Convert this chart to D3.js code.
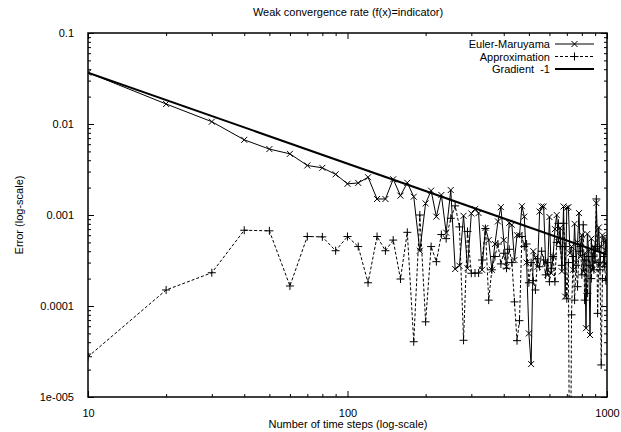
<!DOCTYPE html>
<html>
<head>
<meta charset="utf-8">
<style>
  body { margin: 0; background: #fff; }
  svg { display: block; font-family: "Liberation Sans", Arial, sans-serif; }
  .axis .domain { display: none; }
  .axis .tick line { stroke: #000; stroke-width: 1px; }
  .axis .tick text { font-size: 11px; fill: #000; }
</style>
</head>
<body>
<svg width="621" height="432"></svg>
<script src="https://d3js.org/d3.v7.min.js"></script>
<script>
// number of time steps: 10, 20, ..., 1000
let steps = d3.range(10, 1001, 10);

// Euler-Maruyama weak error
let eulerErr = [
  0.0367, 0.0166, 0.0106, 0.0067, 0.0053, 0.0047, 0.0035, 0.0033, 0.0028, 0.0022,
  0.00225, 0.0026, 0.0015, 0.0015, 0.00247, 0.00163, 0.00226, 0.00159, 0.000405, 0.00134,
  0.00185, 0.00096, 0.00166, 0.00064, 0.00188, 0.000255, 0.000277, 0.00098, 0.00026, 0.00104,
  0.00116, 0.00105, 0.00025, 0.00072, 0.00053, 0.00025, 0.00048, 0.00085, 0.00122, 0.00053,
  0.00027, 0.00082, 0.00078, 0.00032, 0.0006, 0.0006, 0.00125, 0.00096, 0.0003, 0.00005,
  0.000023, 0.0004, 0.00034, 0.00027, 0.00109, 0.00124, 0.00124, 0.0003, 0.00022, 0.00095,
  0.00023, 0.00035, 0.0007, 0.001, 0.0005, 0.00072, 0.00024, 0.00124, 0.000127, 0.0012,
  0.00122, 0.00038, 0.00045, 0.00025, 0.0008, 0.0003, 0.0005, 0.00105, 0.00035, 0.0006,
  0.00024, 0.00038, 0.000057, 0.00062, 0.0004, 0.000048, 0.00055, 0.00025, 0.00045, 0.0003,
  0.00135, 0.00042, 0.00073, 0.00028, 0.00045, 0.0006, 0.00053, 0.00029, 0.00053, 0.0004
];

// Approximation error
let approxErr = [
  0.0000277, 0.00015, 0.000232, 0.00068, 0.00067, 0.000166, 0.00058, 0.000575, 0.000405, 0.00058,
  0.00045, 0.00018, 0.00058, 0.000405, 0.00053, 0.000198, 0.000645, 0.0000405, 0.001, 0.000067,
  0.00045, 0.000307, 0.00061, 0.00055, 0.00092, 0.00126, 0.00074, 0.000042, 0.00066, 0.000229,
  0.00023, 0.00023, 0.00032, 0.00071, 0.000116, 0.00025, 0.00035, 0.00048, 0.00029, 0.00038,
  0.00026, 0.00042, 0.0003, 0.000111, 0.0000416, 0.000069, 0.00058, 0.00045, 0.00048, 0.00018,
  0.0003, 0.00019, 0.00015, 0.00033, 0.00027, 0.0004, 0.00032, 0.00022, 0.0003, 0.000185,
  0.00026, 0.00035, 0.000185, 0.0005, 0.00081, 0.00045, 0.00028, 0.00081, 0.00045, 0.00012,
  0.0003, 0.0000001, 0.00008, 0.00035, 0.000116, 0.00028, 0.000163, 0.0004, 0.00045, 0.00022,
  0.00078, 0.000116, 0.00032, 0.000138, 0.00035, 0.00028, 0.0002, 0.00035, 0.00025, 0.00045,
  0.0015, 0.000083, 0.0003, 0.00025, 0.0000225, 0.0002, 0.00035, 0.00027, 0.00019, 0.00029
];

// reference line with slope -1
let gradStart = 0.367;
let gradN = [10, 1000];

let xMajor = [10, 100, 1000];
let xLabels = ["10", "100", "1000"];
let yMajor = [1e-5, 1e-4, 1e-3, 1e-2, 1e-1];
let yLabels = ["1e-005", "0.0001", "0.001", "0.01", "0.1"];

let margin = { top: 33, right: 14, bottom: 35, left: 88 };
let width = 621, height = 432;

let svg = d3.select("svg");

let x = d3.scaleLog()
  .domain([10, 1000])
  .range([margin.left, width - margin.right]);

let y = d3.scaleLog()
  .domain([1e-5, 0.1])
  .range([height - margin.bottom, margin.top]);

let xMinor = [];
[10, 100].forEach(function (d) { for (let k = 2; k < 10; k++) xMinor.push(d * k); });
let yMinor = [];
[1e-5, 1e-4, 1e-3, 1e-2].forEach(function (d) { for (let k = 2; k < 10; k++) yMinor.push(d * k); });

// axes: ticks point inward on all four sides
svg.append("g").attr("class", "axis")
  .attr("transform", `translate(0, ${height - margin.bottom})`)
  .call(d3.axisBottom(x).tickValues(xMajor).tickSize(-6).tickPadding(12)
    .tickFormat(function (d, i) { return xLabels[i]; }));
svg.append("g").attr("class", "axis")
  .attr("transform", `translate(0, ${height - margin.bottom})`)
  .call(d3.axisBottom(x).tickValues(xMinor).tickSize(-3).tickFormat(""));
svg.append("g").attr("class", "axis")
  .attr("transform", `translate(0, ${margin.top})`)
  .call(d3.axisTop(x).tickValues(xMajor).tickSize(-6).tickFormat(""));
svg.append("g").attr("class", "axis")
  .attr("transform", `translate(0, ${margin.top})`)
  .call(d3.axisTop(x).tickValues(xMinor).tickSize(-3).tickFormat(""));

svg.append("g").attr("class", "axis")
  .attr("transform", `translate(${margin.left}, 0)`)
  .call(d3.axisLeft(y).tickValues(yMajor).tickSize(-6).tickPadding(14)
    .tickFormat(function (d, i) { return yLabels[i]; }));
svg.append("g").attr("class", "axis")
  .attr("transform", `translate(${margin.left}, 0)`)
  .call(d3.axisLeft(y).tickValues(yMinor).tickSize(-3).tickFormat(""));
svg.append("g").attr("class", "axis")
  .attr("transform", `translate(${width - margin.right}, 0)`)
  .call(d3.axisRight(y).tickValues(yMajor).tickSize(-6).tickFormat(""));
svg.append("g").attr("class", "axis")
  .attr("transform", `translate(${width - margin.right}, 0)`)
  .call(d3.axisRight(y).tickValues(yMinor).tickSize(-3).tickFormat(""));

// frame
svg.append("rect")
  .attr("x", margin.left).attr("y", margin.top)
  .attr("width", width - margin.left - margin.right)
  .attr("height", height - margin.top - margin.bottom)
  .style("fill", "none").style("stroke", "#000").style("stroke-width", "1.5px");

svg.append("clipPath").attr("id", "plotclip")
  .append("rect")
  .attr("x", margin.left).attr("y", margin.top)
  .attr("width", width - margin.left - margin.right)
  .attr("height", height - margin.top - margin.bottom);

let plot = svg.append("g").attr("clip-path", "url(#plotclip)");

let line = d3.line()
  .x(function (d) { return x(d[0]); })
  .y(function (d) { return y(d[1]); });

let eulerPts = steps.map(function (n, i) { return [n, eulerErr[i]]; });
let approxPts = steps.map(function (n, i) { return [n, approxErr[i]]; });
let gradPts = gradN.map(function (n) { return [n, gradStart / n]; });

plot.append("path")
  .attr("d", line(approxPts))
  .style("fill", "none").style("stroke", "#000").style("stroke-width", "1px")
  .style("stroke-dasharray", "3,2");

plot.append("path")
  .attr("d", line(eulerPts))
  .style("fill", "none").style("stroke", "#000").style("stroke-width", "1px");

plot.append("path")
  .attr("d", line(gradPts))
  .style("fill", "none").style("stroke", "#000").style("stroke-width", "2px");

function cross(g, cx, cy) {
  g.append("path")
    .attr("d", `M${cx - 3},${cy - 3}L${cx + 3},${cy + 3}M${cx - 3},${cy + 3}L${cx + 3},${cy - 3}`)
    .style("stroke", "#000").style("stroke-width", "1px");
}
function plus(g, cx, cy) {
  g.append("path")
    .attr("d", `M${cx - 4},${cy}L${cx + 4},${cy}M${cx},${cy - 4}L${cx},${cy + 4}`)
    .style("stroke", "#000").style("stroke-width", "1px");
}

approxPts.forEach(function (d) { plus(plot, x(d[0]), y(d[1])); });
eulerPts.forEach(function (d) { cross(plot, x(d[0]), y(d[1])); });

// legend
let legend = [
  { name: "Euler-Maruyama", dash: null, w: 1, mark: cross },
  { name: "Approximation", dash: "3,2", w: 1, mark: plus },
  { name: "Gradient  -1", dash: null, w: 2, mark: null }
];
legend.forEach(function (d, i) {
  let ly = 44 + i * 12.5;
  svg.append("text")
    .attr("x", 550).attr("y", ly + 4)
    .attr("text-anchor", "end")
    .style("font-size", "11px")
    .style("white-space", "pre")
    .text(d.name);
  svg.append("line")
    .attr("x1", 555).attr("x2", 594).attr("y1", ly).attr("y2", ly)
    .style("stroke", "#000").style("stroke-width", d.w + "px")
    .style("stroke-dasharray", d.dash);
  if (d.mark) d.mark(svg, 574.5, ly);
});

// titles
svg.append("text")
  .attr("x", 348).attr("y", 16)
  .attr("text-anchor", "middle")
  .style("font-size", "11px")
  .text("Weak convergence rate (f(x)=indicator)");

svg.append("text")
  .attr("x", 348).attr("y", 428)
  .attr("text-anchor", "middle")
  .style("font-size", "11px")
  .text("Number of time steps (log-scale)");

svg.append("text")
  .attr("transform", "translate(23, 215) rotate(-90)")
  .attr("text-anchor", "middle")
  .style("font-size", "11px")
  .text("Error (log-scale)");
</script>
</body>
</html>
